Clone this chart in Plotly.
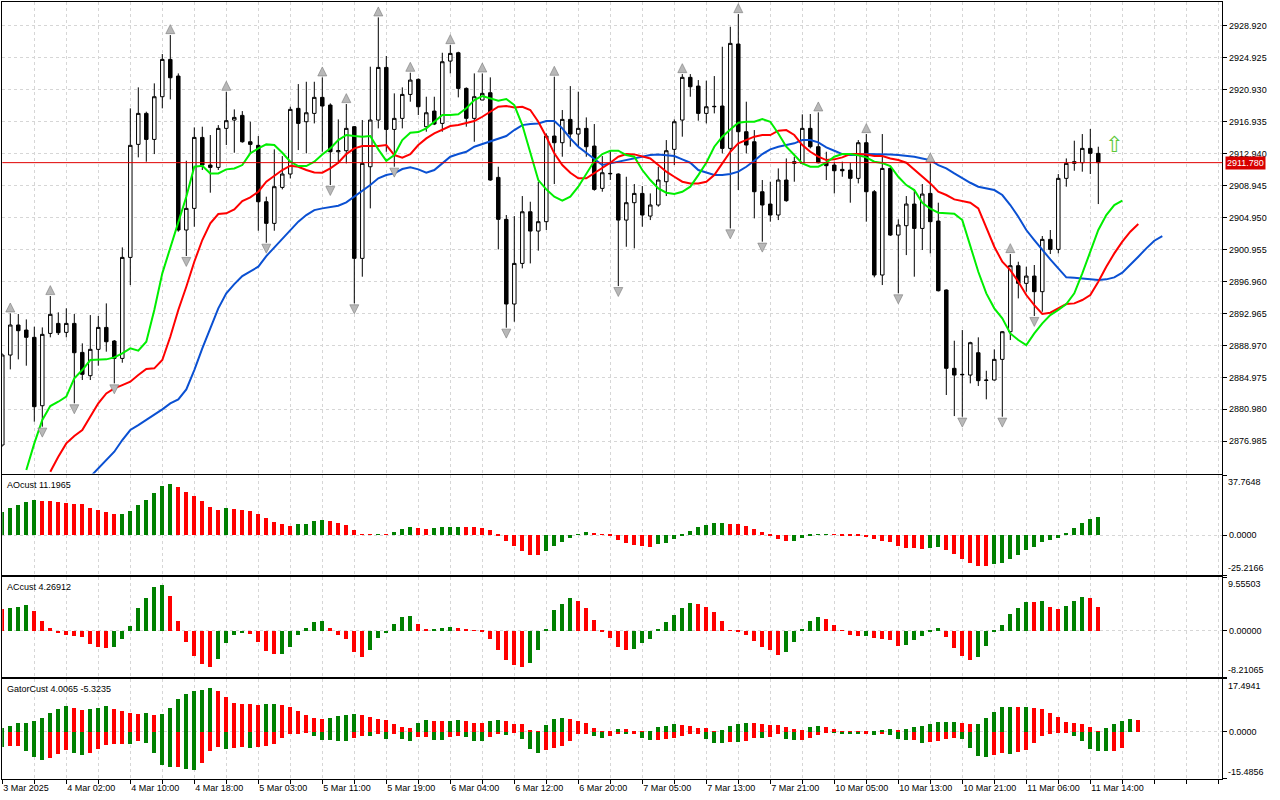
import plotly.graph_objects as go

# ---------------------------------------------------------------- data
# hourly XAUUSD bars, one label every 8 bars starting with bar 0
TIME_LABELS = [
    "3 Mar 2025", "4 Mar 02:00", "4 Mar 10:00", "4 Mar 18:00", "5 Mar 03:00",
    "5 Mar 11:00", "5 Mar 19:00", "6 Mar 04:00", "6 Mar 12:00", "6 Mar 20:00",
    "7 Mar 05:00", "7 Mar 13:00", "7 Mar 21:00", "10 Mar 05:00", "10 Mar 13:00",
    "10 Mar 21:00", "11 Mar 06:00", "11 Mar 14:00",
]

OPEN = [
    2876.53, 2887.76, 2891.51, 2890.88, 2889.97, 2881.43, 2890.46, 2891.71, 2890.59, 2891.71,
    2888.09, 2885.18, 2888.47, 2891.21, 2889.51, 2887.34, 2899.95, 2914.06, 2917.93, 2914.68,
    2920.01, 2924.67, 2922.59, 2903.37, 2906.07, 2914.93, 2911.48, 2911.19, 2916.06, 2917.10,
    2917.68, 2914.39, 2913.94, 2906.90, 2904.20, 2908.69, 2910.36, 2918.56, 2916.89, 2917.93,
    2919.93, 2918.97, 2913.14, 2913.27, 2916.27, 2899.83, 2911.27, 2917.10, 2923.67, 2915.93,
    2917.31, 2920.30, 2922.18, 2916.27, 2918.22, 2916.68, 2924.46, 2925.50, 2921.05, 2917.31,
    2919.60, 2920.51, 2909.94, 2904.70, 2894.13, 2899.20, 2905.65, 2903.24, 2904.41, 2915.10,
    2914.27, 2917.18, 2915.35, 2916.06, 2913.85, 2908.57, 2910.44, 2910.36, 2904.61, 2906.78,
    2907.94, 2905.11, 2906.49, 2909.40, 2913.44, 2917.10, 2922.43, 2921.34, 2917.93, 2918.76,
    2918.85, 2913.56, 2926.59, 2915.64, 2914.39, 2908.15, 2906.61, 2905.24, 2909.61, 2911.69,
    2911.69, 2916.06, 2913.77, 2911.77, 2911.48, 2910.94, 2910.86, 2909.82, 2914.27, 2908.15,
    2897.75, 2911.06, 2902.74, 2903.91, 2906.61, 2903.57, 2907.94, 2904.49, 2895.88, 2886.10,
    2885.35, 2885.26, 2888.05, 2884.64, 2884.64, 2887.22, 2890.67, 2898.91, 2896.71, 2897.62,
    2895.67, 2902.20, 2900.95, 2909.82, 2911.69, 2911.77, 2913.56, 2912.94,
]
HIGH = [
    2887.97, 2892.96, 2892.88, 2892.21, 2891.30, 2891.21, 2895.13, 2893.09, 2893.59, 2892.88,
    2889.22, 2892.75, 2892.63, 2894.21, 2889.63, 2901.20, 2918.56, 2921.18, 2918.14, 2921.68,
    2925.34, 2927.71, 2922.92, 2912.02, 2916.18, 2916.27, 2915.23, 2916.47, 2920.64, 2918.43,
    2918.22, 2916.89, 2915.10, 2907.53, 2913.44, 2912.60, 2918.76, 2921.59, 2921.88, 2921.88,
    2922.43, 2919.18, 2917.18, 2919.10, 2916.35, 2917.10, 2923.76, 2929.92, 2925.09, 2920.43,
    2921.18, 2923.01, 2922.30, 2920.01, 2920.01, 2925.50, 2926.46, 2925.63, 2921.18, 2922.92,
    2922.92, 2922.43, 2911.27, 2905.24, 2905.11, 2907.61, 2906.90, 2909.40, 2915.43, 2922.51,
    2918.35, 2921.34, 2920.64, 2917.43, 2916.60, 2912.60, 2913.35, 2910.44, 2910.02, 2909.11,
    2908.86, 2907.94, 2911.27, 2914.60, 2917.18, 2922.84, 2922.84, 2922.09, 2922.01, 2922.59,
    2926.25, 2928.75, 2930.33, 2919.39, 2915.85, 2909.61, 2909.40, 2911.06, 2912.31, 2912.52,
    2917.81, 2917.85, 2918.06, 2913.14, 2911.90, 2911.90, 2911.77, 2914.60, 2915.35, 2908.36,
    2915.35, 2911.27, 2904.70, 2907.61, 2908.44, 2909.11, 2911.69, 2906.78, 2895.96, 2889.55,
    2890.88, 2889.42, 2889.97, 2885.80, 2888.47, 2890.76, 2900.37, 2899.41, 2898.79, 2899.00,
    2902.62, 2903.37, 2910.36, 2912.31, 2914.52, 2915.35, 2915.98, 2913.77,
]
LOW = [
    2876.32, 2885.97, 2887.22, 2886.43, 2879.44, 2878.81, 2889.97, 2890.26, 2889.97, 2881.73,
    2884.64, 2884.64, 2886.43, 2888.18, 2884.22, 2886.80, 2896.50, 2912.44, 2911.90, 2912.85,
    2918.56, 2919.68, 2903.16, 2900.12, 2903.78, 2910.86, 2908.03, 2910.86, 2913.98, 2913.02,
    2914.27, 2912.94, 2903.28, 2901.78, 2903.28, 2908.44, 2909.82, 2913.35, 2912.94, 2916.68,
    2913.14, 2908.98, 2911.69, 2911.69, 2894.21, 2897.54, 2906.07, 2916.06, 2913.14, 2911.27,
    2916.06, 2919.39, 2917.72, 2915.64, 2916.47, 2915.64, 2922.92, 2919.93, 2916.27, 2914.39,
    2919.60, 2909.52, 2900.95, 2891.17, 2891.92, 2898.58, 2899.20, 2900.79, 2903.37, 2909.11,
    2912.52, 2913.77, 2913.77, 2912.52, 2908.28, 2908.15, 2909.61, 2896.37, 2901.28, 2901.08,
    2903.78, 2904.61, 2906.28, 2907.61, 2911.48, 2915.02, 2920.01, 2917.02, 2916.68, 2917.93,
    2912.94, 2903.57, 2908.36, 2912.94, 2904.82, 2901.91, 2904.41, 2904.61, 2906.90, 2909.40,
    2911.61, 2913.56, 2911.69, 2909.61, 2907.94, 2910.02, 2906.78, 2909.19, 2904.41, 2897.46,
    2896.50, 2902.62, 2895.46, 2900.24, 2897.54, 2900.87, 2900.45, 2895.70, 2882.77, 2880.14,
    2880.06, 2884.22, 2883.89, 2882.23, 2884.56, 2880.06, 2889.63, 2894.83, 2895.67, 2892.63,
    2893.17, 2900.37, 2900.45, 2908.78, 2910.77, 2910.65, 2910.36, 2906.61,
]
CLOSE = [
    2887.76, 2891.51, 2890.80, 2889.97, 2881.31, 2890.34, 2892.84, 2890.55, 2891.71, 2888.05,
    2885.35, 2888.47, 2891.21, 2889.42, 2887.34, 2899.95, 2913.94, 2917.93, 2914.68, 2920.01,
    2924.67, 2922.38, 2903.37, 2906.07, 2914.93, 2911.48, 2911.19, 2916.06, 2917.02, 2917.43,
    2914.39, 2914.06, 2906.90, 2904.20, 2908.78, 2910.36, 2918.43, 2916.68, 2918.01, 2919.93,
    2918.85, 2913.14, 2913.27, 2916.06, 2899.83, 2911.69, 2917.10, 2923.67, 2915.93, 2917.31,
    2920.30, 2922.09, 2918.76, 2918.01, 2916.60, 2924.38, 2925.42, 2921.05, 2917.31, 2920.01,
    2920.43, 2909.61, 2904.70, 2894.13, 2899.20, 2905.65, 2903.24, 2904.41, 2915.10, 2914.27,
    2917.18, 2915.35, 2916.06, 2913.77, 2908.44, 2910.52, 2910.40, 2904.61, 2906.78, 2907.94,
    2905.24, 2906.49, 2909.61, 2913.27, 2916.89, 2922.43, 2921.26, 2917.93, 2918.76, 2918.80,
    2913.56, 2926.67, 2915.64, 2913.98, 2908.15, 2906.49, 2905.24, 2909.61, 2907.03, 2911.90,
    2916.06, 2913.77, 2911.77, 2911.40, 2910.77, 2910.77, 2909.82, 2914.27, 2908.15, 2897.75,
    2911.06, 2902.74, 2903.99, 2906.61, 2903.57, 2907.86, 2904.41, 2895.79, 2886.10, 2885.26,
    2885.31, 2889.30, 2884.56, 2884.60, 2887.22, 2890.67, 2898.91, 2896.71, 2897.62, 2895.67,
    2902.20, 2900.95, 2909.82, 2911.69, 2911.90, 2913.56, 2912.94, 2911.78,
]

# Alligator lines (already shifted forward, as drawn on the chart)
LIPS_START = 3
LIPS = [
    2873.40, 2876.73, 2879.65, 2881.39, 2881.93, 2882.56, 2884.85, 2885.89, 2887.14, 2887.22,
    2887.22, 2887.47, 2887.97, 2888.59, 2888.30, 2889.42, 2893.38, 2897.96, 2901.08, 2904.41,
    2907.53, 2911.27, 2911.40, 2910.44, 2910.44, 2910.94, 2911.06, 2911.48, 2912.94, 2913.56,
    2914.06, 2913.98, 2913.02, 2911.90, 2911.36, 2911.36, 2911.90, 2912.81, 2913.56, 2914.60,
    2915.23, 2915.10, 2915.02, 2915.10, 2913.44, 2912.02, 2912.73, 2914.60, 2915.52, 2915.60,
    2916.06, 2916.89, 2917.72, 2917.72, 2917.81, 2918.56, 2919.60, 2920.09, 2919.80, 2919.51,
    2919.72, 2918.97, 2916.47, 2912.94, 2909.61, 2908.44, 2907.53, 2907.03, 2907.53, 2908.78,
    2910.44, 2911.98, 2912.85, 2913.27, 2913.27, 2912.73, 2912.52, 2910.86, 2909.61, 2908.57,
    2908.03, 2907.86, 2908.15, 2908.78, 2910.23, 2911.77, 2913.77, 2915.02, 2915.93, 2916.77,
    2916.89, 2916.89, 2917.22, 2916.89, 2915.43, 2913.77, 2912.73, 2911.69, 2911.27, 2911.27,
    2911.77, 2912.52, 2912.85, 2912.85, 2912.69, 2912.44, 2911.90, 2911.73, 2911.36, 2910.02,
    2908.98, 2908.36, 2906.78, 2906.03, 2905.53, 2905.45, 2905.41, 2904.61, 2901.28, 2898.16,
    2895.46, 2893.59, 2892.34, 2890.46, 2889.63, 2889.01, 2890.46, 2891.71, 2892.75, 2893.38,
    2894.13, 2895.46, 2897.96, 2900.66, 2903.37, 2905.24, 2906.49, 2907.03,
]
TEETH_START = 6
TEETH = [
    2873.19, 2875.07, 2876.73, 2877.65, 2878.40, 2880.06, 2881.73, 2882.97, 2883.60, 2884.01,
    2884.43, 2885.26, 2886.01, 2886.10, 2887.14, 2890.05, 2893.38, 2896.29, 2899.41, 2902.12,
    2904.20, 2905.36, 2905.45, 2905.95, 2906.99, 2907.44, 2908.15, 2909.40, 2910.15, 2910.86,
    2911.40, 2911.27, 2910.86, 2910.56, 2910.52, 2911.06, 2911.77, 2912.85, 2913.56, 2913.85,
    2913.85, 2913.85, 2913.98, 2912.73, 2912.40, 2912.85, 2913.98, 2914.81, 2915.43, 2915.85,
    2916.35, 2916.47, 2916.68, 2916.97, 2917.51, 2918.14, 2918.76, 2918.85, 2918.68, 2918.76,
    2918.35, 2916.89, 2915.02, 2912.94, 2911.48, 2910.52, 2909.82, 2909.82, 2910.44, 2911.06,
    2911.77, 2912.52, 2912.85, 2912.81, 2912.52, 2912.31, 2911.48, 2910.65, 2910.02, 2909.40,
    2909.19, 2909.19, 2909.40, 2910.23, 2911.69, 2913.14, 2914.19, 2914.60, 2915.02, 2915.23,
    2915.23, 2915.77, 2915.85, 2915.23, 2913.98, 2913.14, 2912.52, 2912.10, 2912.19, 2912.44,
    2912.85, 2912.85, 2912.81, 2912.60, 2912.60, 2912.31, 2912.10, 2911.77, 2910.94, 2910.11,
    2909.19, 2908.15, 2907.74, 2907.19, 2907.03, 2906.78, 2906.07, 2903.78, 2901.28, 2899.41,
    2898.37, 2896.92, 2895.25, 2894.00, 2892.88, 2893.05, 2893.59, 2894.13, 2894.21, 2894.63,
    2895.25, 2896.92, 2898.79, 2900.45, 2901.91, 2903.16, 2904.11,
]
JAW_START = 11
JAW = [
    2872.57, 2873.61, 2874.57, 2875.69, 2877.15, 2878.40, 2879.02, 2879.65, 2880.27, 2880.98,
    2881.73, 2882.23, 2883.47, 2885.89, 2888.59, 2891.09, 2893.59, 2895.46, 2896.62, 2897.62,
    2898.16, 2898.79, 2900.12, 2901.20, 2902.28, 2903.28, 2904.41, 2905.24, 2905.86, 2906.07,
    2906.28, 2906.40, 2906.82, 2907.53, 2908.28, 2908.98, 2909.82, 2910.23, 2910.44, 2910.98,
    2911.19, 2910.94, 2910.52, 2910.86, 2911.69, 2912.52, 2912.85, 2913.14, 2913.77, 2914.10,
    2914.39, 2914.68, 2915.10, 2915.85, 2916.47, 2916.60, 2916.68, 2916.97, 2916.97, 2916.06,
    2914.81, 2913.77, 2913.02, 2912.19, 2911.48, 2911.69, 2911.90, 2912.10, 2912.31, 2912.60,
    2912.73, 2912.81, 2912.73, 2912.60, 2912.19, 2911.77, 2910.86, 2910.52, 2910.23, 2910.23,
    2910.36, 2910.65, 2911.27, 2912.02, 2912.85, 2913.44, 2913.77, 2913.98, 2914.19, 2914.60,
    2914.60, 2914.31, 2913.69, 2913.27, 2912.85, 2912.73, 2912.73, 2912.85, 2912.85, 2912.85,
    2912.81, 2912.73, 2912.65, 2912.52, 2912.31, 2912.10, 2911.48, 2911.06, 2910.44, 2909.82,
    2909.27, 2908.78, 2908.57, 2908.36, 2907.74, 2906.49, 2905.03, 2903.37, 2902.12, 2900.87,
    2899.70, 2898.58, 2897.46, 2897.41, 2897.33, 2897.21, 2897.12, 2897.21, 2897.46, 2898.04,
    2899.00, 2900.04, 2901.08, 2902.03, 2902.62,
]

UP_FRACTALS = [1, 6, 21, 28, 40, 43, 47, 51, 56, 60, 69, 85, 92, 102, 108, 116, 126]
DOWN_FRACTALS = [5, 9, 14, 23, 33, 41, 44, 49, 63, 77, 91, 95, 112, 120, 125, 129]

SIGNAL_BAR = 139
SIGNAL_PRICE = 2913.8

AO = [
    14.3, 16.8, 18.9, 21.0, 21.8, 21.7, 21.6, 21.0, 20.4, 19.7,
    19.3, 16.8, 15.5, 14.3, 13.0, 13.1, 14.9, 18.7, 21.8, 26.2,
    30.6, 31.9, 30.0, 26.9, 24.3, 21.2, 17.4, 15.5, 16.8, 16.2,
    15.7, 14.9, 13.0, 10.5, 8.0, 6.7, 5.5, 6.7, 7.1, 8.6,
    9.2, 8.6, 7.3, 6.1, 2.9, 0.4, 0.15, 0.4, 0.25, 1.7,
    3.6, 4.8, 4.2, 3.6, 4.2, 4.8, 4.9, 5.0, 4.9, 4.8,
    4.7, 2.9, -0.2, -4.0, -7.1, -10.3, -12.8, -12.9, -10.3, -7.1,
    -4.6, -2.1, 0.4, 1.7, 1.1, 0.5, -0.3, -3.4, -5.2, -6.5,
    -7.1, -7.8, -5.9, -5.2, -2.7, -0.2, 2.3, 4.8, 6.1, 7.3,
    7.4, 6.7, 6.6, 5.5, 3.6, 1.7, -0.2, -2.7, -4.0, -3.9,
    -2.1, -0.8, 0.3, 0.4, 0.3, -0.2, -0.3, -0.8, -1.5, -2.7,
    -4.0, -4.6, -7.1, -8.4, -8.5, -8.6, -8.4, -7.8, -9.7, -12.2,
    -15.3, -17.8, -19.7, -19.8, -18.5, -17.8, -15.3, -12.8, -9.7, -7.8,
    -4.6, -3.4, -2.1, 1.1, 4.2, 7.3, 9.9, 11.1965,
]
AC = [
    3.79, 4.09, 4.26, 4.62, 3.55, 1.78, 0.53, -0.47, -0.83, -0.90,
    -1.18, -2.43, -2.96, -2.98, -2.90, -1.54, 0.89, 3.97, 5.74, 7.70,
    8.05, 6.22, 1.78, -2.07, -4.56, -5.86, -6.51, -5.09, -2.25, -0.83,
    -0.47, -0.65, -2.07, -3.67, -4.20, -4.10, -2.96, -0.83, 0.53, 1.60,
    1.78, 0.53, -0.83, -1.54, -3.85, -4.74, -3.49, -1.36, -0.47, 1.24,
    2.49, 2.66, 1.24, 0.18, 0.36, 0.53, 0.71, 0.53, 0.36, 0.05,
    -0.06, -1.54, -3.49, -5.27, -6.16, -6.51, -5.80, -3.49, 0.24, 3.61,
    4.80, 5.74, 5.33, 4.09, 1.84, -0.06, -1.36, -2.96, -3.49, -3.32,
    -2.25, -1.54, 0.36, 1.60, 2.84, 4.09, 4.97, 4.80, 4.26, 3.38,
    1.78, 0.06, -0.06, -0.83, -1.89, -2.96, -3.49, -4.38, -3.85, -2.07,
    0.18, 1.78, 2.49, 2.13, 1.07, 0.12, -0.83, -1.01, -0.95, -1.36,
    -1.54, -1.72, -2.78, -2.61, -1.72, -1.01, -0.12, 0.53, -1.18, -3.14,
    -4.56, -5.27, -4.74, -2.78, -0.24, 1.07, 3.02, 4.09, 5.15, 5.10,
    5.33, 4.26, 3.79, 4.44, 5.33, 6.04, 5.86, 4.26912,
]
GATOR_UP = [
    1.2, 1.87, 2.86, 2.90, 3.52, 4.51, 6.15, 7.47, 8.46, 7.80,
    7.14, 7.47, 7.80, 8.46, 7.47, 6.81, 6.15, 6.10, 6.15, 5.50,
    5.82, 7.80, 10.77, 12.42, 13.41, 13.74, 14.40, 13.41, 11.43, 9.45,
    9.12, 9.10, 9.08, 9.12, 9.15, 8.79, 8.13, 6.81, 5.50, 4.51,
    4.18, 4.51, 5.17, 5.50, 5.82, 5.50, 4.84, 4.18, 3.85, 2.53,
    1.54, 1.21, 2.86, 3.85, 3.75, 3.70, 3.78, 3.85, 3.52, 2.86,
    2.84, 3.52, 3.85, 3.52, 2.53, 2.50, 0.66, 0.22, 2.20, 4.18,
    4.51, 4.18, 3.52, 2.86, 1.21, 0.33, 0.22, 0.88, 0.85, 0.33,
    0.30, 0.35, 1.54, 1.87, 2.53, 2.20, 1.87, 1.21, 1.18, 0.22,
    0.66, 1.87, 2.53, 2.86, 2.84, 2.53, 2.20, 2.18, 1.54, 0.88,
    0.66, 1.54, 1.87, 1.54, 0.99, 0.22, 0.20, 0.18, 0.15, 0.33,
    0.66, 0.88, 0.66, 0.88, 1.54, 1.87, 2.53, 3.19, 3.20, 3.22,
    2.86, 2.53, 2.55, 4.51, 6.48, 8.13, 8.15, 8.10, 8.12, 7.80,
    7.75, 6.15, 4.84, 3.19, 2.86, 2.53, 1.54, 0.30, 1.21, 2.53,
    3.52, 4.18, 4.0065,
]
GATOR_DOWN = [
    -5.06, -4.73, -4.70, -6.37, -8.35, -9.34, -8.68, -7.36, -6.04, -7.03,
    -7.69, -7.03, -5.71, -4.40, -4.07, -4.05, -4.10, -3.08, -3.74, -7.03,
    -10.99, -11.65, -11.60, -12.31, -12.64, -10.33, -6.37, -5.06, -5.71, -5.39,
    -5.06, -5.39, -5.06, -4.73, -4.07, -2.09, -0.66, -0.33, -0.30, -1.43,
    -2.75, -2.77, -3.08, -3.10, -2.09, -1.43, -1.45, -0.66, -2.31, -0.33,
    -2.42, -2.97, -1.76, -1.74, -2.64, -2.66, -1.76, -1.43, -1.76, -2.97,
    -3.00, -1.76, -0.66, -0.99, -0.05, -2.31, -5.60, -6.92, -5.93, -5.27,
    -4.62, -2.97, -0.66, -0.64, -1.43, -1.98, -1.32, -0.66, -0.70, -0.33,
    -1.98, -2.64, -2.60, -2.31, -1.98, -1.32, -0.66, -0.33, -2.31, -3.63,
    -3.66, -3.30, -3.35, -2.97, -1.98, -2.00, -1.76, -0.33, -2.31, -2.70,
    -2.64, -1.98, -0.99, -0.25, -0.30, -0.60, -0.62, -0.66, -0.60, -0.99,
    -0.66, -0.90, -2.31, -2.64, -2.60, -3.63, -3.30, -2.97, -2.31, -1.98,
    -2.20, -5.27, -7.91, -8.24, -7.58, -6.92, -7.25, -6.59, -5.93, -3.63,
    -1.32, -0.33, -0.22, -0.10, -1.32, -3.00, -5.60, -6.26, -6.30, -6.26,
    -5.3235,
]

PRICE_TICKS = [2928.920, 2924.925, 2920.930, 2916.935, 2912.940, 2908.945, 2904.950,
               2900.955, 2896.960, 2892.965, 2888.970, 2884.975, 2880.980, 2876.985]
PRICE_RANGE = (2872.97, 2931.80)
AO_RANGE = (-25.2166, 37.7648)
AC_RANGE = (-8.21065, 9.55503)
GATOR_RANGE = (-15.4856, 17.4941)

# ---------------------------------------------------------------- style
W, H = 1280, 800
GREEN, RED = "#008000", "#ff0000"
GRID = "#d6d6d6"
GRID_DASH = "3px,3px"
FONT = "Liberation Sans"
X_RANGE = (0, 152.5)          # 8 px per bar
X_DOMAIN = (2.3 / W, 1222.3 / W)
FRACTAL_PAD = 1.3


def ydom(top_px, bottom_px):
    return [1 - bottom_px / H, 1 - top_px / H]


def bar_colors(values, first, use_abs=False):
    vals = [abs(v) for v in values] if use_abs else values
    cols = [first]
    for prev, cur in zip(vals, vals[1:]):
        cols.append(GREEN if cur > prev else RED)
    return cols


bars = list(range(len(CLOSE)))
fig = go.Figure()

fig.add_trace(go.Candlestick(
    x=bars, open=OPEN, high=HIGH, low=LOW, close=CLOSE,
    increasing=dict(line=dict(color="black", width=1), fillcolor="white"),
    decreasing=dict(line=dict(color="black", width=1), fillcolor="black"),
    whiskerwidth=0, showlegend=False, xaxis="x", yaxis="y",
))

for start, vals, color in [(JAW_START, JAW, "#0a50d2"),
                           (TEETH_START, TEETH, "#ff0000"),
                           (LIPS_START, LIPS, "#00ee00")]:
    fig.add_trace(go.Scatter(
        x=list(range(start, start + len(vals))), y=vals, mode="lines",
        line=dict(color=color, width=2), showlegend=False, xaxis="x", yaxis="y",
    ))

fig.add_trace(go.Scatter(
    x=UP_FRACTALS, y=[HIGH[i] + FRACTAL_PAD for i in UP_FRACTALS], mode="markers",
    marker=dict(symbol="arrow-up", size=9, color="#b8b8b8",
                line=dict(color="#7a7a7a", width=0.6)),
    showlegend=False, xaxis="x", yaxis="y",
))
fig.add_trace(go.Scatter(
    x=DOWN_FRACTALS, y=[LOW[i] - FRACTAL_PAD for i in DOWN_FRACTALS], mode="markers",
    marker=dict(symbol="arrow-down", size=9, color="#b8b8b8",
                line=dict(color="#7a7a7a", width=0.6)),
    showlegend=False, xaxis="x", yaxis="y",
))
fig.add_trace(go.Scatter(
    x=[SIGNAL_BAR], y=[SIGNAL_PRICE], mode="text", text=["\u21e7"],
    textfont=dict(family="DejaVu Sans", size=22, color="#5cc83a"),
    showlegend=False, xaxis="x", yaxis="y",
))

# oscillators
fig.add_trace(go.Bar(x=bars, y=AO, width=0.5, marker=dict(color=bar_colors(AO, GREEN), line_width=0),
                     showlegend=False, xaxis="x2", yaxis="y2"))
fig.add_trace(go.Bar(x=bars, y=AC, width=0.5, marker=dict(color=bar_colors(AC, RED), line_width=0),
                     showlegend=False, xaxis="x3", yaxis="y3"))
fig.add_trace(go.Bar(x=list(range(len(GATOR_UP))), y=GATOR_UP, width=0.5,
                     marker=dict(color=bar_colors(GATOR_UP, GREEN), line_width=0),
                     showlegend=False, xaxis="x4", yaxis="y4"))
fig.add_trace(go.Bar(x=list(range(len(GATOR_DOWN))), y=GATOR_DOWN, width=0.5,
                     marker=dict(color=bar_colors(GATOR_DOWN, GREEN, use_abs=True), line_width=0),
                     showlegend=False, xaxis="x4", yaxis="y4"))

# ---------------------------------------------------------------- axes
grid_ticks = list(range(0, 153, 4))
grid_text = [TIME_LABELS[t // 8] if t % 8 == 0 and t // 8 < len(TIME_LABELS) else "" for t in grid_ticks]

common_x = dict(domain=X_DOMAIN, range=X_RANGE, tickvals=grid_ticks, showgrid=True,
                gridcolor=GRID, griddash=GRID_DASH, gridwidth=1, zeroline=False,
                showline=True, mirror=True, linecolor="black", linewidth=1,
                showticklabels=False, ticks="")
common_y = dict(side="right", showline=True, mirror=True, linecolor="black", linewidth=1,
                zeroline=False, ticks="outside", ticklen=4, tickcolor="black",
                showgrid=True, gridcolor=GRID, griddash=GRID_DASH, gridwidth=1)

panes = {
    "y": (ydom(2.3, 473.5), PRICE_RANGE),
    "y2": (ydom(475.3, 575.3), AO_RANGE),
    "y3": (ydom(577.0, 677.0), AC_RANGE),
    "y4": (ydom(678.7, 778.7), GATOR_RANGE),
}

layout = dict(
    width=W, height=H, margin=dict(l=0, r=0, t=0, b=0),
    paper_bgcolor="white", plot_bgcolor="white",
    font=dict(family=FONT, size=9, color="black"),
    barmode="overlay", boxgap=0.38, bargap=0, showlegend=False,
)
for i, key in enumerate(["y", "y2", "y3", "y4"]):
    xname = "xaxis" if i == 0 else f"xaxis{i + 1}"
    yname = "yaxis" if i == 0 else f"yaxis{i + 1}"
    xa = dict(common_x, anchor=key)
    if i > 0:
        xa["matches"] = "x"
    if key == "y":
        xa["rangeslider"] = dict(visible=False)
    if key == "y4":
        xa.update(ticks="outside", ticklen=4, tickcolor="black", showticklabels=True,
                  ticktext=grid_text, ticklabelposition="outside right",
                  tickfont=dict(family=FONT, size=9))
    layout[xname] = xa
    dom, rng = panes[key]
    ya = dict(common_y, domain=dom, range=list(rng), anchor="x" if i == 0 else f"x{i + 1}")
    if key == "y":
        ya.update(tickvals=PRICE_TICKS, ticktext=[f"{v:.3f}" for v in PRICE_TICKS])
    else:
        zero_txt = "0.00000" if key == "y3" else "0.0000"
        ya.update(tickvals=[rng[0], 0, rng[1]], ticktext=["", zero_txt, ""])
    layout[yname] = ya

fig.update_layout(**layout)

# current price line + label
last = CLOSE[-1]
fig.add_shape(type="line", xref="x domain", yref="y", x0=0, x1=1, y0=last, y1=last,
              line=dict(color="#e00000", width=1))
fig.add_annotation(xref="paper", yref="y", x=1224.5 / W, y=last, xanchor="left",
                   yanchor="middle", text=f"{last:.3f}", showarrow=False,
                   bgcolor="#d80000", borderpad=1, font=dict(color="white", size=9, family=FONT))

# oscillator names and extreme values
names = [
    ("y2", f"AOcust {AO[-1]:.4f}", AO_RANGE, "{:.4f}"),
    ("y3", f"ACcust {AC[-1]:.5f}", AC_RANGE, "{:.5f}"),
    ("y4", f"GatorCust {GATOR_UP[-1]:.4f} {GATOR_DOWN[-1]:.4f}", GATOR_RANGE, "{:.4f}"),
]
for key, label, rng, fmt in names:
    top = panes[key][0][1]
    fig.add_annotation(xref="paper", yref="paper", x=5 / W, y=top - 3 / H, xanchor="left",
                       yanchor="top", text=label, showarrow=False, font=dict(size=9, family=FONT))
    fig.add_annotation(xref="paper", yref=key, x=1226 / W, y=rng[1], xanchor="left",
                       yanchor="top", text=fmt.format(rng[1]), showarrow=False,
                       font=dict(size=9, family=FONT))
    fig.add_annotation(xref="paper", yref=key, x=1226 / W, y=rng[0], xanchor="left",
                       yanchor="bottom", text=fmt.format(rng[0]), showarrow=False,
                       font=dict(size=9, family=FONT))

fig.write_html("out.html", config={"displayModeBar": False},
               post_script="document.body.style.margin='0';document.body.style.padding='0';")
